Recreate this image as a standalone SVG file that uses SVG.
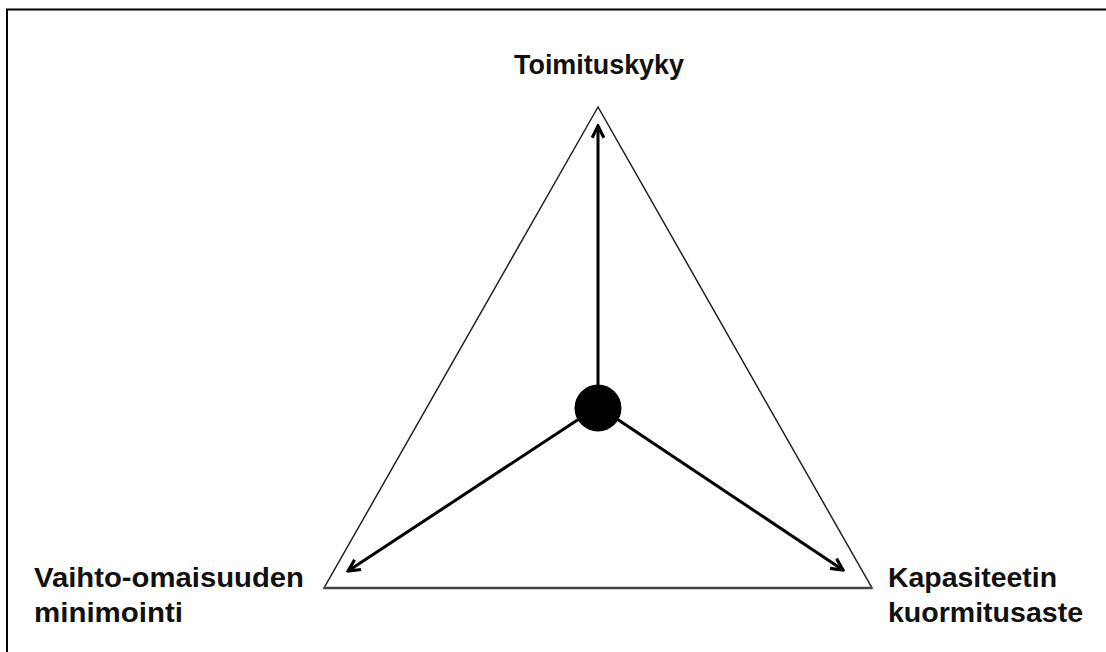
<svg xmlns="http://www.w3.org/2000/svg" width="1106" height="652" viewBox="0 0 1106 652">
<defs>
<style>
.lbl{font-family:"Liberation Sans","Noto Sans",sans-serif;font-weight:bold;font-size:27px;fill:#111;}
.arr{stroke:#000;stroke-width:3;fill:none;marker-end:url(#ah);}
</style>
<marker id="ah" viewBox="0 0 12 12" refX="10.5" refY="6" markerWidth="5.2" markerHeight="5.2" orient="auto" markerUnits="strokeWidth">
<path d="M1.5,1.5 L10.5,6 L1.5,10.5" fill="none" stroke="#000" stroke-width="2.4" stroke-linejoin="miter"/>
</marker>
</defs>
<rect width="1106" height="652" fill="#fff"/>
<polyline points="7,652 7,9.5 1106,9.5" fill="none" stroke="#000" stroke-width="2"/>
<g id="triangle">
<polygon points="598,107 324,588 872,588" fill="none" stroke="#222" stroke-width="1.5"/>
<line x1="324" y1="588" x2="872" y2="588" stroke="#444" stroke-width="2.5"/>
</g>
<g id="connectors">
<line class="arr" x1="598" y1="385" x2="598" y2="126"/>
<line class="arr" x1="579" y1="419" x2="348" y2="571"/>
<line class="arr" x1="617" y1="419" x2="843" y2="570"/>
</g>
<g id="center">
<circle cx="598" cy="408" r="23.5" fill="#000"/>
</g>
<g id="toimituskyky">
<text class="lbl" x="599" y="74" text-anchor="middle" textLength="170" lengthAdjust="spacingAndGlyphs">Toimituskyky</text>
</g>
<g id="vaihto">
<text class="lbl" x="34" y="587" textLength="270" lengthAdjust="spacingAndGlyphs">Vaihto-omaisuuden</text>
<text class="lbl" x="34" y="622" textLength="149" lengthAdjust="spacingAndGlyphs">minimointi</text>
</g>
<g id="kapasiteetti">
<text class="lbl" x="888" y="587" textLength="169" lengthAdjust="spacingAndGlyphs">Kapasiteetin</text>
<text class="lbl" x="888" y="622" textLength="195" lengthAdjust="spacingAndGlyphs">kuormitusaste</text>
</g>
</svg>
